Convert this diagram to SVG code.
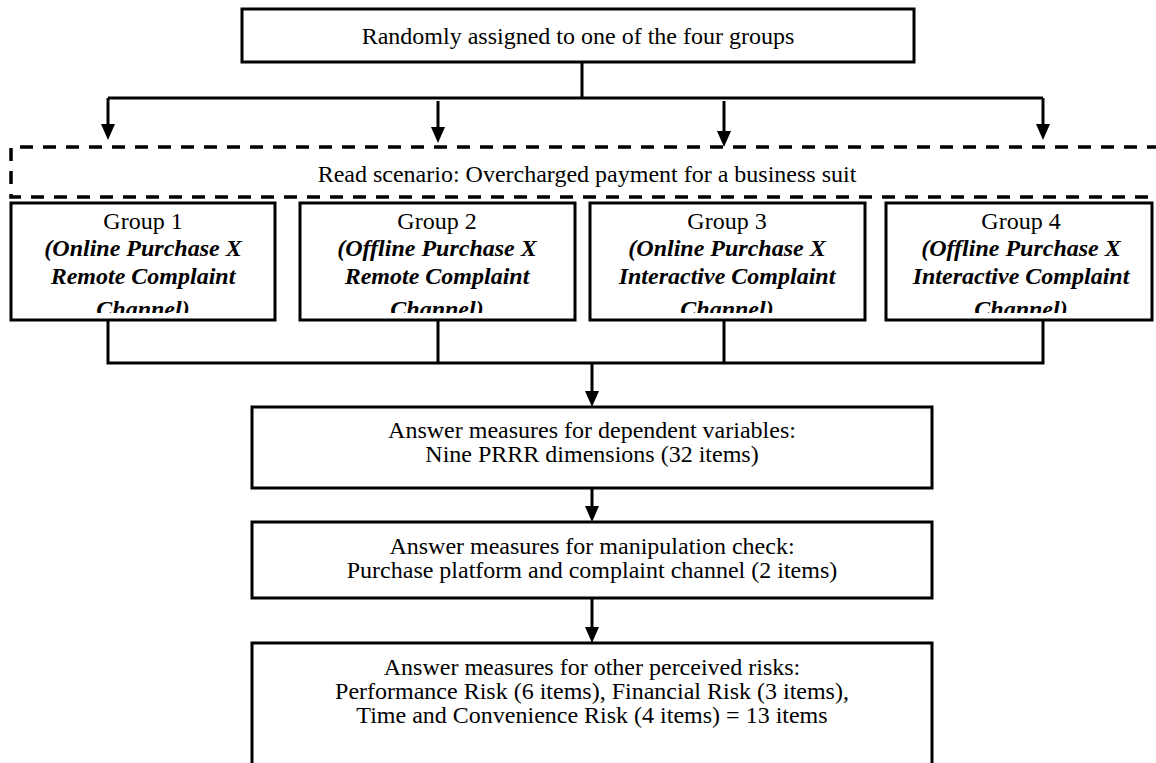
<svg xmlns="http://www.w3.org/2000/svg" width="1156" height="763" viewBox="0 0 1156 763">
<style>
.box{fill:#fff;stroke:#000;stroke-width:3}
.dash{fill:none;stroke:#000;stroke-width:3.5;stroke-dasharray:13 10}
.ln{fill:none;stroke:#000;stroke-width:3}
.t{font-family:"Liberation Serif","Times New Roman",serif;font-size:24px;fill:#000;text-anchor:middle}
.bi{font-weight:bold;font-style:italic}
</style>
<defs>
<clipPath id="c1"><rect x="12" y="204" width="262" height="109"/></clipPath>
<clipPath id="c2"><rect x="301" y="204" width="273" height="109"/></clipPath>
<clipPath id="c3"><rect x="591" y="204" width="273" height="109"/></clipPath>
<clipPath id="c4"><rect x="887" y="204" width="264" height="109"/></clipPath>
</defs>
<g id="connectors">
<path class="ln" d="M582,62 V98 M108,98 H1043"/>
<path class="ln" d="M108,98 V124"/>
<path d="M101,124 L115,124 L108,140 Z"/>
<path class="ln" d="M438,101 V127"/>
<path d="M431,127 L445,127 L438,143 Z"/>
<path class="ln" d="M724,101 V131"/>
<path d="M717,131 L731,131 L724,147 Z"/>
<path class="ln" d="M1043,98 V124"/>
<path d="M1036,124 L1050,124 L1043,140 Z"/>
<path class="ln" d="M108,320 V363 H1043 V320 M438,320 V363 M724,320 V363"/>
<path class="ln" d="M592,363 V391"/>
<path d="M585,391 L599,391 L592,407 Z"/>
<path class="ln" d="M592,488 V506"/>
<path d="M585,506 L599,506 L592,522 Z"/>
<path class="ln" d="M592,599 V627"/>
<path d="M585,627 L599,627 L592,643 Z"/>
</g>
<g id="start">
<rect class="box" x="242" y="9" width="672" height="53"/>
<text class="t" x="578" y="44">Randomly assigned to one of the four groups</text>
</g>
<g id="scenario">
<path class="dash" d="M1160,147 H11 V197 H1160"/>
<text class="t" x="587" y="182">Read scenario: Overcharged payment for a business suit</text>
</g>
<g id="group1">
<rect class="box" x="11" y="203" width="264" height="117"/>
<g clip-path="url(#c1)">
<text class="t" x="143" y="229">Group 1</text>
<text class="t bi" x="143" y="256">(Online Purchase X</text>
<text class="t bi" x="143" y="284">Remote Complaint</text>
<text class="t bi" x="143" y="317">Channel)</text>
</g>
</g>
<g id="group2">
<rect class="box" x="300" y="203" width="275" height="117"/>
<g clip-path="url(#c2)">
<text class="t" x="437" y="229">Group 2</text>
<text class="t bi" x="437" y="256">(Offline Purchase X</text>
<text class="t bi" x="437" y="284">Remote Complaint</text>
<text class="t bi" x="437" y="317">Channel)</text>
</g>
</g>
<g id="group3">
<rect class="box" x="590" y="203" width="275" height="117"/>
<g clip-path="url(#c3)">
<text class="t" x="727" y="229">Group 3</text>
<text class="t bi" x="727" y="256">(Online Purchase X</text>
<text class="t bi" x="727" y="284">Interactive Complaint</text>
<text class="t bi" x="727" y="317">Channel)</text>
</g>
</g>
<g id="group4">
<rect class="box" x="886" y="203" width="266" height="117"/>
<g clip-path="url(#c4)">
<text class="t" x="1021" y="229">Group 4</text>
<text class="t bi" x="1021" y="256">(Offline Purchase X</text>
<text class="t bi" x="1021" y="284">Interactive Complaint</text>
<text class="t bi" x="1021" y="317">Channel)</text>
</g>
</g>
<g id="dependent">
<rect class="box" x="252" y="407" width="680" height="81"/>
<text class="t" x="592" y="438">Answer measures for dependent variables:</text>
<text class="t" x="592" y="462">Nine PRRR dimensions (32 items)</text>
</g>
<g id="manipulation">
<rect class="box" x="252" y="522" width="680" height="76"/>
<text class="t" x="592" y="554">Answer measures for manipulation check:</text>
<text class="t" x="592" y="578">Purchase platform and complaint channel (2 items)</text>
</g>
<g id="risks">
<path class="box" d="M252,770 V643 H932 V770"/>
<text class="t" x="592" y="675">Answer measures for other perceived risks:</text>
<text class="t" x="592" y="699">Performance Risk (6 items), Financial Risk (3 items),</text>
<text class="t" x="592" y="723">Time and Convenience Risk (4 items) = 13 items</text>
</g>
</svg>
